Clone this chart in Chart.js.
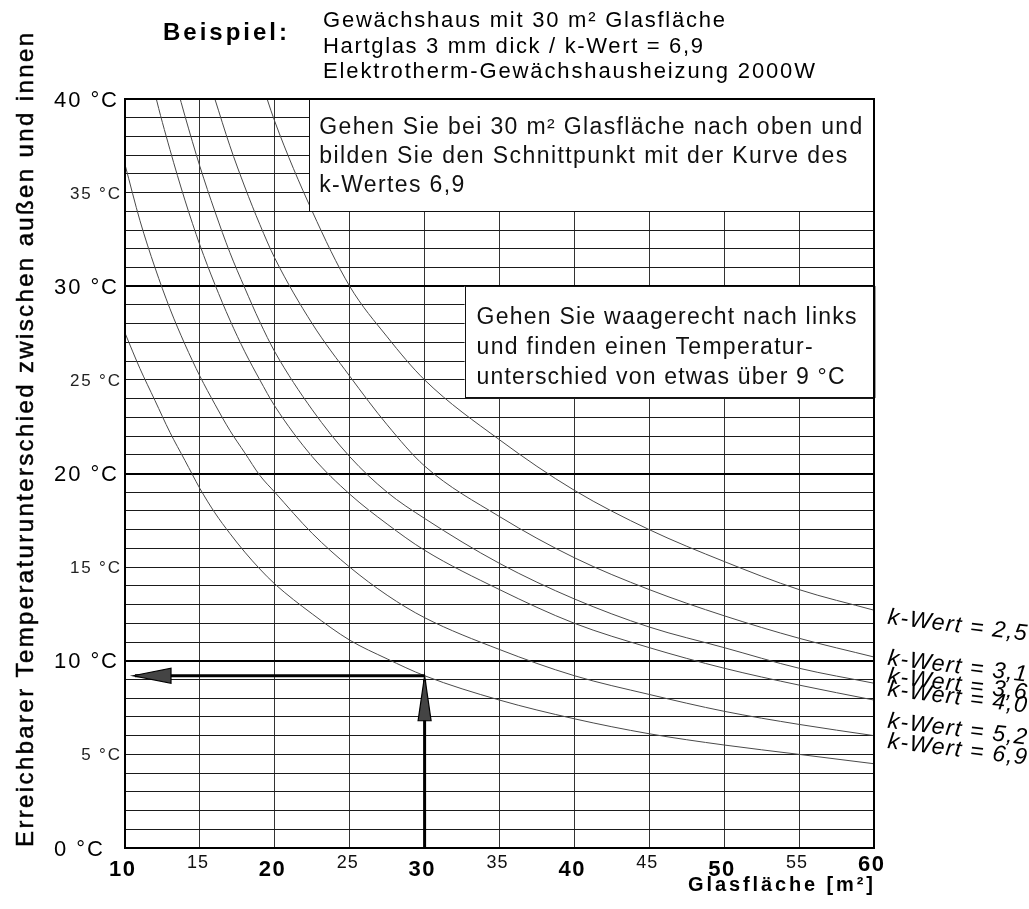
<!DOCTYPE html>
<html>
<head>
<meta charset="utf-8">
<script src="https://cdn.jsdelivr.net/npm/chart.js@4.4.1/dist/chart.umd.min.js"></script>
<style>
html,body{margin:0;padding:0;background:#fff;}
canvas{display:block;}
</style>
</head>
<body>
<canvas id="c" width="1029" height="909"></canvas>
<script>
// ---------- data ----------
const areas = [10, 11, 12, 13, 14, 15, 16, 17, 18, 19, 20, 22.5, 25, 27.5, 30, 35, 40, 45, 50, 55, 60];
const kWerte = ['2,5', '3,1', '3,6', '4,0', '5,2', '6,9'];
const k25 = [null, null, null, null, null, null, null, null, null, 41.2, 38.8, 34.0, 30.0, 27.3, 25.0, 21.8, 19.1, 17.0, 15.3, 13.8, 12.7];
const k31 = [null, null, null, null, null, 42.5, 40.0, 37.5, 35.3, 33.3, 31.5, 28.0, 25.2, 22.6, 20.4, 17.7, 15.5, 13.8, 12.4, 11.2, 10.2];
const k36 = [null, null, null, 42.0, 39.1, 36.4, 34.0, 31.8, 29.9, 28.1, 26.5, 23.4, 20.9, 19.0, 17.6, 15.2, 13.3, 11.8, 10.7, 9.6, 8.8];
const k40 = [null, 44.0, 40.3, 37.3, 34.6, 32.2, 30.1, 28.2, 26.5, 25.0, 23.6, 20.9, 18.9, 17.3, 15.9, 13.8, 12.0, 10.7, 9.6, 8.7, 7.9];
const k52 = [36.5, 33.5, 31.0, 28.8, 26.9, 25.2, 23.7, 22.3, 21.1, 19.9, 19.0, 16.8, 15.0, 13.5, 12.3, 10.6, 9.2, 8.2, 7.3, 6.6, 6.0];
const k69 = [27.5, 25.6, 23.9, 22.2, 20.7, 19.2, 17.9, 16.8, 15.8, 14.9, 14.1, 12.5, 11.1, 10.1, 9.2, 7.9, 6.9, 6.1, 5.5, 5.0, 4.5];
const seriesList = [k25, k31, k36, k40, k52, k69];

const xMajorTicks = [10, 20, 30, 40, 50, 60];
const xMinorTicks = [15, 25, 35, 45, 55];
const yMajorTicks = [0, 10, 20, 30, 40];
const yMinorTicks = [5, 15, 25, 35];

const exampleArea = 30;     // m² Glasfläche
const exampleResult = 9.2;  // °C read at the k=6,9 curve

const titleBold = 'Beispiel:';
const titleLines = ['Gewächshaus mit 30 m² Glasfläche', 'Hartglas 3 mm dick / k-Wert = 6,9', 'Elektrotherm-Gewächshausheizung 2000W'];
const box1Lines = ['Gehen Sie bei 30 m² Glasfläche nach oben und', 'bilden Sie den Schnittpunkt mit der Kurve des', 'k-Wertes 6,9'];
const box2Lines = ['Gehen Sie waagerecht nach links', 'und finden einen Temperatur-', 'unterschied von etwas über 9 °C'];
const yTitle = 'Erreichbarer Temperaturunterschied zwischen außen und innen';
const xTitle = 'Glasfläche [m²]';

// ---------- helpers ----------
const FF = '"Liberation Sans", Arial, sans-serif';
function spacingFor(ctx, font, text, width) {
  ctx.font = font;
  const n = [...text].length;
  const w0 = ctx.measureText(text).width;
  return n > 1 ? (width - w0) / (n - 1) : 0;
}
function drawSpaced(ctx, text, x, y, font, ls, align, strokeW) {
  ctx.font = font;
  const chars = [...text];
  const w0 = ctx.measureText(text).width;
  const total = w0 + ls * (chars.length - 1);
  let sx = align === 'right' ? x - total : (align === 'center' ? x - total / 2 : x);
  ctx.textAlign = 'left';
  ctx.textBaseline = 'alphabetic';
  if ('letterSpacing' in ctx) {
    ctx.letterSpacing = ls + 'px';
    ctx.fillText(text, sx, y);
    if (strokeW) { ctx.lineWidth = strokeW; ctx.strokeStyle = ctx.fillStyle; ctx.strokeText(text, sx, y); }
    ctx.letterSpacing = '0px';
  } else {
    for (const ch of chars) {
      ctx.fillText(ch, sx, y);
      if (strokeW) { ctx.lineWidth = strokeW; ctx.strokeStyle = ctx.fillStyle; ctx.strokeText(ch, sx, y); }
      sx += ctx.measureText(ch).width + ls;
    }
  }
}
function fitText(ctx, text, x, y, font, width, align, strokeW) {
  drawSpaced(ctx, text, x, y, font, spacingFor(ctx, font, text, width), align, strokeW);
}

// ---------- decorations plugin ----------
const decor = {
  id: 'decor',
  afterDatasetsDraw(chart) {
    const ctx = chart.ctx;
    const xs = chart.scales.x, ys = chart.scales.y;
    const ca = chart.chartArea;
    const X = v => xs.getPixelForValue(v);
    const Y = v => ys.getPixelForValue(v);
    ctx.save();

    // text boxes (white, covering grid)
    const boxes = [
      {x0: 22.3, x1: 60, y0: 34.0, y1: 40, lines: box1Lines, dx: 10, first: 34.5, lh: 29.3, widths: [543, 528, 145]},
      {x0: 32.67, x1: 60, y0: 24.05, y1: 30, lines: box2Lines, dx: 12, first: 38, lh: 30, widths: [380, 336, 368]}
    ];
    boxes.forEach(b => {
      const l = X(b.x0), r = X(b.x1), t = Y(b.y1), bt = Y(b.y0);
      ctx.fillStyle = '#fff';
      ctx.fillRect(l, t, r - l, bt - t);
      ctx.strokeStyle = '#111';
      ctx.lineWidth = 1;
      ctx.strokeRect(Math.round(l) + 0.5, Math.round(t) + 0.5, r - l, Math.round(bt - t));
      ctx.fillStyle = '#111';
      b.lines.forEach((s, i) => fitText(ctx, s, l + b.dx, t + b.first + i * b.lh, '23px ' + FF, b.widths[i], 'left'));
    });

    // arrows
    ctx.strokeStyle = '#000';
    ctx.fillStyle = '#000';
    ctx.lineWidth = 3;
    const ax = X(exampleArea), ay = Y(exampleResult);
    ctx.beginPath();
    ctx.moveTo(ax, Y(0));
    ctx.lineTo(ax, ay + 4);
    ctx.stroke();
    ctx.beginPath();
    ctx.moveTo(ax, ay);
    ctx.lineTo(X(10) + 10, ay);
    ctx.stroke();
    // heads
    ctx.lineWidth = 1.2;
    ctx.fillStyle = '#444';
    ctx.beginPath();
    ctx.moveTo(ax, ay);
    ctx.lineTo(ax - 6.5, ay + 45);
    ctx.lineTo(ax + 6.5, ay + 45);
    ctx.closePath();
    ctx.fill(); ctx.stroke();
    const hx = X(10) + 8;
    ctx.beginPath();
    ctx.moveTo(hx, ay);
    ctx.lineTo(hx + 38, ay - 7.5);
    ctx.lineTo(hx + 38, ay + 7.5);
    ctx.closePath();
    ctx.fill(); ctx.stroke();

    // frame
    ctx.strokeStyle = '#000';
    ctx.lineWidth = 2;
    ctx.strokeRect(ca.left, ca.top, ca.right - ca.left, ca.bottom - ca.top);

    // y tick labels
    ctx.fillStyle = '#000';
    const fMajY = '22px ' + FF;
    const lsY = spacingFor(ctx, fMajY, '40 °C', 63);
    yMajorTicks.forEach(v => drawSpaced(ctx, v + ' °C', 54, Y(v) + 7.5, fMajY, lsY, 'left'));
    ctx.fillStyle = '#222';
    const fMinY = '17px ' + FF;
    const lsY2 = spacingFor(ctx, fMinY, '35 °C', 50);
    yMinorTicks.forEach(v => drawSpaced(ctx, v + ' °C', 120, Y(v) + 6, fMinY, lsY2, 'right'));

    // x tick labels
    ctx.fillStyle = '#000';
    const fMajX = 'bold 22px ' + FF;
    const lsX = spacingFor(ctx, fMajX, '10', 26);
    xMajorTicks.forEach(v => drawSpaced(ctx, String(v), X(v) - 3, ca.bottom + (v === 60 ? 23 : 28), fMajX, lsX, 'center'));
    ctx.fillStyle = '#111';
    const fMinX = '18px ' + FF;
    const lsX2 = spacingFor(ctx, fMinX, '15', 21);
    xMinorTicks.forEach(v => drawSpaced(ctx, String(v), X(v) - 2.5, ca.bottom + 20, fMinX, lsX2, 'center'));

    // axis titles
    ctx.fillStyle = '#000';
    fitText(ctx, xTitle, 873, 891, 'bold 20px ' + FF, 185, 'right');
    ctx.save();
    ctx.translate(33, 440);
    ctx.rotate(-Math.PI / 2);
    fitText(ctx, yTitle, 0, 0, '24px ' + FF, 814, 'center', 0.5);
    ctx.restore();

    // header
    fitText(ctx, titleBold, 163, 40, 'bold 24px ' + FF, 124, 'left');
    const hw = [402, 380, 492];
    titleLines.forEach((s, i) => fitText(ctx, s, 323, 27 + i * 25.5, '22px ' + FF, hw[i], 'left'));

    // curve labels on the right
    const labelY = [12.35, 10.16, 9.2, 8.5, 6.8, 5.72];
    const fLab = 'italic 23px ' + FF;
    const lsL = spacingFor(ctx, fLab, 'k-Wert = 2,5', 140);
    kWerte.forEach((k, i) => {
      ctx.save();
      ctx.translate(887, Y(labelY[i]) + 7);
      ctx.rotate(0.12);
      drawSpaced(ctx, 'k-Wert = ' + k, 0, 0, fLab, lsL, 'left');
      ctx.restore();
    });

    ctx.restore();
  }
};

const datasets = seriesList.map((arr, i) => ({
  label: 'k-Wert = ' + kWerte[i],
  data: areas.map((a, j) => ({x: a, y: arr[j]})),
  borderColor: '#4a4a4a',
  borderWidth: 1,
  pointRadius: 0,
  fill: false,
  cubicInterpolationMode: 'monotone',
  spanGaps: false
}));

new Chart(document.getElementById('c'), {
  type: 'line',
  data: {datasets},
  options: {
    responsive: false,
    animation: false,
    events: [],
    layout: {padding: {left: 125, right: 155, top: 99, bottom: 61}},
    plugins: {legend: {display: false}, tooltip: {enabled: false}, title: {display: false}},
    scales: {
      x: {
        type: 'linear', min: 10, max: 60,
        ticks: {display: false, stepSize: 5},
        grid: {color: '#333', lineWidth: 1, drawTicks: false},
        border: {display: false}
      },
      y: {
        min: 0, max: 40,
        ticks: {display: false, stepSize: 1},
        grid: {
          color: c => (c.tick && c.tick.value % 10 === 0) ? '#000' : '#1a1a1a',
          lineWidth: c => (c.tick && c.tick.value % 10 === 0) ? 2 : 1,
          drawTicks: false
        },
        border: {display: false}
      }
    }
  },
  plugins: [decor]
});
</script>
</body>
</html>
